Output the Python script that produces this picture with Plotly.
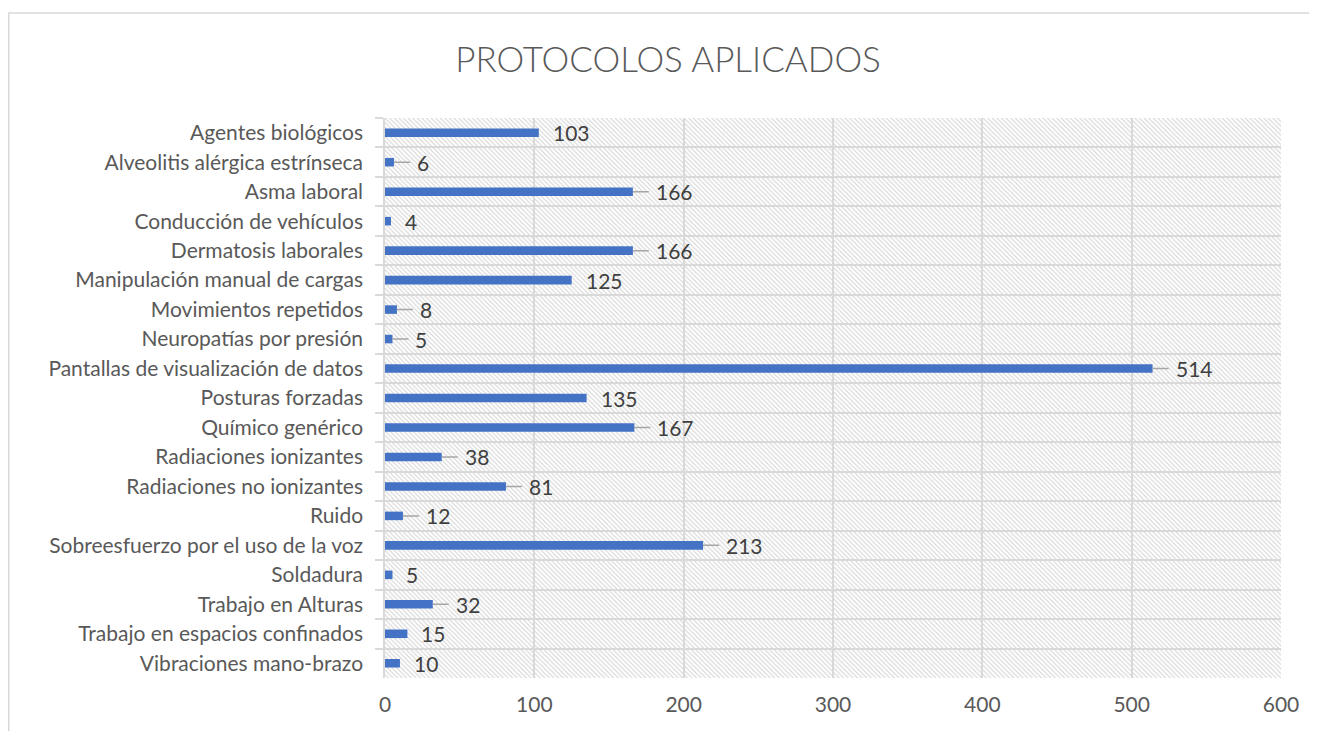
import base64
import plotly.graph_objects as go

# ---- data ----
categories = [
    "Agentes biológicos",
    "Alveolitis alérgica estrínseca",
    "Asma laboral",
    "Conducción de vehículos",
    "Dermatosis laborales",
    "Manipulación manual de cargas",
    "Movimientos repetidos",
    "Neuropatías por presión",
    "Pantallas de visualización de datos",
    "Posturas forzadas",
    "Químico genérico",
    "Radiaciones ionizantes",
    "Radiaciones no ionizantes",
    "Ruido",
    "Sobreesfuerzo por el uso de la voz",
    "Soldadura",
    "Trabajo en Alturas",
    "Trabajo en espacios confinados",
    "Vibraciones mano-brazo",
]
values = [103, 6, 166, 4, 166, 125, 8, 5, 514, 135, 167, 38, 81, 12, 213, 5, 32, 15, 10]
x_ticks = [0, 100, 200, 300, 400, 500, 600]
title_text = "PROTOCOLOS APLICADOS"

# ---- styling ----
BAR_COLOR = "#4472c4"
GRID = "#d9d9d9"
TICK_COLOR = "#595959"
LABEL_COLOR = "#404040"
FONT = "Lato"
FS = 21
# labels that Excel drew with a leader line
LEADER_LINES = {
    "Alveolitis alérgica estrínseca", "Asma laboral", "Dermatosis laborales",
    "Movimientos repetidos", "Neuropatías por presión",
    "Pantallas de visualización de datos", "Químico genérico",
    "Radiaciones ionizantes", "Radiaciones no ionizantes", "Ruido",
    "Sobreesfuerzo por el uso de la voz", "Trabajo en Alturas",
}

# page has an 8px body margin; figure coordinates are page coordinates - 8
W, H = 1309, 723
L, T = 377, 110
R = W - 1273
B = H - 670
PW, PH = W - L - R, H - T - B

svg = (
    f'<svg xmlns="http://www.w3.org/2000/svg" width="{PW}" height="{PH}" '
    f'viewBox="0 0 {PW} {PH}" preserveAspectRatio="none">'
    '<defs><pattern id="h" patternUnits="userSpaceOnUse" width="4.6" height="4.6">'
    '<path d="M-1,-1 L5.6,5.6 M-1,3.6 L1,5.6 M3.6,-1 L5.6,1" stroke="#d3d3d3" stroke-width="1.1"/>'
    '</pattern></defs>'
    f'<rect width="{PW}" height="{PH}" fill="white"/>'
    f'<rect width="{PW}" height="{PH}" fill="url(#h)"/></svg>'
)
hatch_uri = "data:image/svg+xml;base64," + base64.b64encode(svg.encode()).decode()

fig = go.Figure()
fig.add_trace(go.Bar(
    x=values, y=categories, orientation="h",
    marker=dict(color=BAR_COLOR, line=dict(width=0)),
    width=0.29, hoverinfo="x+y",
))

annotations = []
for c, v in zip(categories, values):
    if c in LEADER_LINES:
        annotations.append(dict(
            x=v, y=c, xref="x", yref="y", text=str(v),
            showarrow=True, arrowhead=0, arrowwidth=1.5, arrowcolor="#a6a6a6",
            ax=21, ay=0, xanchor="left", yanchor="middle",
            startstandoff=5, standoff=0,
            font=dict(family=FONT, size=FS, color=LABEL_COLOR),
        ))
    else:
        annotations.append(dict(
            x=v, y=c, xref="x", yref="y", text=str(v),
            showarrow=False, xanchor="left", yanchor="middle", xshift=12,
            font=dict(family=FONT, size=FS, color=LABEL_COLOR),
        ))

fig.update_layout(
    width=W, height=H,
    margin=dict(l=L, r=R, t=T, b=B, autoexpand=False),
    paper_bgcolor="white",
    plot_bgcolor="rgba(0,0,0,0)",
    showlegend=False,
    title=dict(text=title_text, x=660 / W, xanchor="center", xref="container",
               y=1 - 52 / H, yanchor="middle",
               font=dict(family=FONT, size=35, color=TICK_COLOR, weight=300)),
    annotations=annotations,
    images=[dict(source=hatch_uri, xref="paper", yref="paper", x=0, y=1,
                 sizex=1, sizey=1, sizing="stretch", layer="below",
                 xanchor="left", yanchor="top")],
    shapes=[dict(type="rect", xref="paper", yref="paper",
                 x0=(0.75 - L) / PW, x1=1.2, y0=-0.3, y1=(H - B - 5) / PH,
                 line=dict(color=GRID, width=1.5), fillcolor="rgba(0,0,0,0)",
                 layer="below")],
    xaxis=dict(range=[0, 600], tickvals=x_ticks, showgrid=True, gridcolor=GRID,
               gridwidth=1.5, zeroline=False, showline=False, ticks="",
               ticklabelstandoff=12,
               tickfont=dict(family=FONT, size=FS, color=TICK_COLOR)),
    yaxis=dict(autorange="reversed", tickson="boundaries", showgrid=True,
               gridcolor=GRID, gridwidth=1.5, showline=True, linecolor=GRID,
               linewidth=1.5, ticks="outside", ticklen=8, tickcolor=GRID,
               tickwidth=1.5, ticklabelstandoff=16,
               tickfont=dict(family=FONT, size=FS, color=TICK_COLOR)),
)

fig.write_html("out.html")
